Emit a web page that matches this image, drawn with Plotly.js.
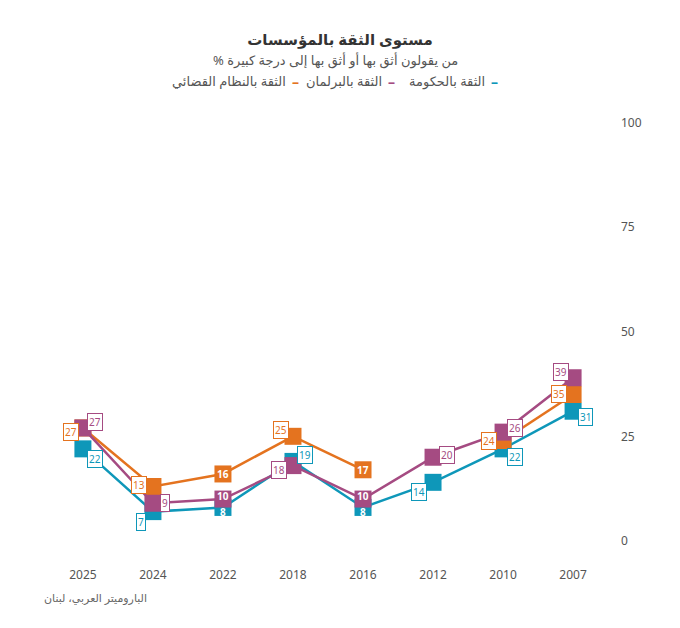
<!DOCTYPE html>
<html><head><meta charset="utf-8">
<script src="https://cdn.plot.ly/plotly-3.0.1.min.js"></script>
<style>body{margin:0}</style></head>
<body><div id="chart" style="width:680px;height:628px"></div>
<script>
var years = ['2025', '2024', '2022', '2018', '2016', '2012', '2010', '2007'];
var government = [22, 7, 8, 19, 8, 14, 22, 31];
var parliament = [27, 9, 10, 18, 10, 20, 26, 39];
var judiciary = [27, 13, 16, 25, 17, null, 24, 35];
var seriesNames = ['الثقة بالحكومة', 'الثقة بالبرلمان', 'الثقة بالنظام القضائي'];

var blue = '#0e97b9', purple = '#a54b82', orange = '#e4731f';

// label placement per point: [xshift, yshift], null = inside marker
var blueOff = [[12,-10],[-12,-10],null,[12,6],null,[-14,-10],[12,-8],[12,-6]];
var purpleOff = [[12,6],[12,0],null,[-14,-4],null,[14,2],[12,4],[-12,6]];
var orangeOff = [[-12,-4],[-14,2],null,[-12,6],null,null,[-14,0],[-14,0]];

function trace(name, ys, color) {
  return {
    name: name, x: years, y: ys, type: 'scatter', mode: 'lines+markers',
    line: {color: color, width: 2.5},
    marker: {symbol: 'square', size: 17, color: color},
    connectgaps: false, hoverinfo: 'skip'
  };
}

var annotations = [];
function addLabels(ys, color, offs, inYshift) {
  ys.forEach(function (v, i) {
    if (v === null) return;
    var o = offs[i];
    if (o) {
      annotations.push({x: i, y: v, text: String(v), showarrow: false,
        xshift: o[0], yshift: o[1], bgcolor: 'white', bordercolor: color,
        borderwidth: 1, borderpad: 1, font: {size: 10, color: color}});
    } else {
      annotations.push({x: i, y: v, text: '<b>' + v + '</b>', showarrow: false,
        yshift: inYshift, font: {size: 10, color: 'white'}});
    }
  });
}

var data = [trace(seriesNames[0], government, blue),
            trace(seriesNames[2], judiciary, orange),
            trace(seriesNames[1], parliament, purple)];

addLabels(government, blue, blueOff, -5);
addLabels(judiciary, orange, orangeOff, 0);
addLabels(parliament, purple, purpleOff, 3);

annotations.push({xref: 'paper', yref: 'paper', x: 0, y: -0.09, xanchor: 'left',
  xshift: -8, text: 'الباروميتر العربي، لبنان', showarrow: false,
  font: {size: 11, color: '#666'}});
annotations.push({xref: 'paper', yref: 'paper', x: 0.5, y: 1.133, showarrow: false,
  text: '\u202Bمن يقولون أثق بها أو أثق بها إلى درجة كبيرة %\u202C',
  font: {size: 13, color: '#555'}});

// legend items laid out right to left: swatch, then label to its left
var legendColors = [blue, purple, orange];
var legendX = [0.789, 0.608, 0.44];
seriesNames.forEach(function (n, k) {
  annotations.push({xref: 'paper', yref: 'paper', x: legendX[k], y: 1.088,
    xanchor: 'right', showarrow: false, text: '<b>–</b>',
    font: {size: 14, color: legendColors[k]}});
  annotations.push({xref: 'paper', yref: 'paper', x: legendX[k], y: 1.088,
    xanchor: 'right', xshift: -13, showarrow: false, text: n,
    font: {size: 13, color: '#555'}});
});

var layout = {
  width: 680, height: 628,
  font: {family: 'Noto Sans, DejaVu Sans, sans-serif', color: '#555'},
  title: {text: '<b>مستوى الثقة بالمؤسسات</b>', x: 0.5, y: 0.945, font: {size: 15, color: '#333'}},
  showlegend: false,
  margin: {l: 50, r: 60, t: 110, b: 62},
  xaxis: {type: 'category', range: [-0.47, 7.67], showgrid: false, zeroline: false,
    showline: false, ticks: '', tickfont: {size: 12}},
  yaxis: {side: 'right', range: [-6, 103], tickvals: [0, 25, 50, 75, 100],
    showgrid: false, zeroline: false, tickfont: {size: 12}},
  annotations: annotations,
  plot_bgcolor: 'white', paper_bgcolor: 'white'
};

Plotly.newPlot('chart', data, layout, {displayModeBar: false});
</script></body></html>
